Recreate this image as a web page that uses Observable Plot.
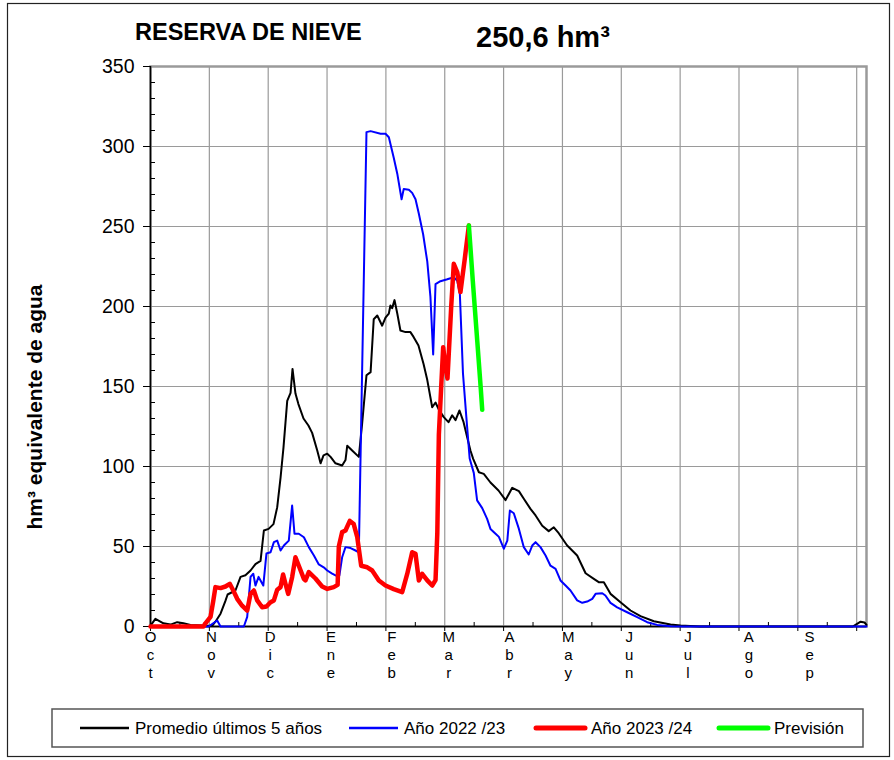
<!DOCTYPE html>
<html><head><meta charset="utf-8">
<script src="https://cdn.jsdelivr.net/npm/d3@7"></script>
<script src="https://cdn.jsdelivr.net/npm/@observablehq/plot@0.6"></script>
<style>
body{margin:0;background:#fff;}
#wrap{position:relative;width:894px;height:760px;font-family:"Liberation Sans",Arial,sans-serif;}
#chart{position:absolute;left:0;top:0;}
#overlay{position:absolute;left:0;top:0;}
</style></head><body>
<div id="wrap"><div id="chart"></div><svg id="overlay" width="894" height="760"></svg></div>
<script>
// ---- Data (day index from 1 October, value in hm³) ----
const promedio = [[0,0.5],[2.5,4.8],[6.6,2],[10.2,1.2],[13.6,2.7],[16.8,2],[20.4,1],[28.9,0.5],[31.5,0.6],[33.1,3],[35.7,8],[38.2,16],[39.3,20],[43.3,22.5],[45.9,31],[48.4,32],[51,35],[53.5,39],[56.1,41],[57.8,60],[60.2,61],[62.7,64],[64.6,74.6],[66.3,93],[67.8,112],[69.7,141],[71.4,146],[72.4,161],[73.9,145.6],[75.4,139],[78,130],[80.5,125.6],[82.4,121],[85,110],[86.7,102],[88.2,107],[90.1,108],[91.8,106],[94.3,102],[97.7,100.6],[99.4,104],[100.3,113],[102.8,110],[106.2,106],[107.9,127],[110.1,157],[112.2,159],[113.8,192],[115.6,194.4],[118.1,188],[119.8,193],[121.5,195.6],[122.3,200.6],[123.2,199],[124.4,204],[125.8,195.6],[127.4,185],[130,184],[132.5,184],[134.1,181],[136.6,175.6],[139.2,164],[141.1,154],[143.6,137],[145.3,140],[146.8,136],[149.4,131],[151.9,127.7],[153.8,132],[155.5,129],[157.5,135],[159.6,127.7],[161.5,118],[163.1,110],[164.5,104.8],[167.4,96.4],[169.9,95.4],[173.3,90],[177.4,85],[181,79],[184.4,86.7],[187.8,84.6],[190.3,79.8],[193.7,73.5],[196.3,69.4],[199.7,63],[203,59.6],[205.6,62],[208.1,58.3],[212.4,50.6],[217.5,44.4],[221.8,33.3],[226,29.8],[228.5,27.7],[231.1,27.7],[234.5,20.4],[239.6,15.2],[244.7,10],[249.8,6.5],[256.6,3.3],[265.1,1.25],[270.2,0.6],[280,0],[358,0],[360,1.5],[362,3],[364,2.5],[365,1]];

const anio2223 = [[0,0],[29.6,0],[34,3.75],[35.7,0],[47.6,0],[49.3,6],[51,31],[52.4,33],[53.5,25.6],[55.1,31],[57.5,25.6],[59.1,45.6],[61.2,46.4],[62.9,52.7],[64.6,53.7],[66.3,47.5],[68,50.6],[70.5,53.7],[72.2,75.6],[73.4,58],[75.6,58],[78.2,55.8],[80.7,49.6],[83.3,44.4],[85.8,38.8],[88.3,37],[90.1,35],[92.6,33],[94.3,31.9],[96.3,31.9],[97.7,43.3],[99.4,49.6],[102,49],[104.5,47.5],[106.2,46.4],[110.1,309],[112.2,309.6],[117.3,308],[119.8,308],[121.5,305.8],[124,293],[125.8,283],[128,267],[129.1,273.5],[131.7,273],[133.4,271],[135.1,267],[136.8,258],[139,245],[141.1,228],[142.7,206],[144.1,170],[145.3,214],[147.8,215.8],[151.3,217],[154.6,218.3],[156.4,216],[157.7,208],[159.3,158],[161,131],[162.7,105],[164.8,96],[166.5,78.8],[169.1,74],[171.6,67.3],[173.3,61],[175.9,58],[177.6,56],[180.1,48.6],[181.9,53.7],[183.2,72.5],[185.2,70.8],[187.8,61],[190.3,49.6],[192.8,45],[194.6,50.6],[196.3,52.7],[198.8,49.6],[201.4,44.4],[203.9,38],[206.5,36],[209,28.8],[211.6,25.6],[214.1,22.5],[217.5,16.3],[220.1,14.8],[222.6,15.6],[225.2,17.3],[226.9,20.4],[230.3,20.8],[231.9,19.4],[234.5,14.8],[237.9,12],[243,8.9],[248.1,5.8],[253.2,2.7],[258.3,1],[265.1,0.2],[272,0],[365,0]];

const anio2324 = [[0,0],[27,0],[28,2],[30.6,6],[32,16],[33.1,24.6],[35.7,24],[38.2,25],[40.4,26.7],[42.2,22.5],[44.2,17.3],[46.7,13],[49.3,10],[51,20.4],[52.7,22.5],[54.4,16.3],[56.9,12],[59.1,12.5],[61.2,15.2],[62.9,16.3],[64.6,23],[66.3,24.6],[67.6,32.5],[68.8,26.7],[70.2,20.4],[72.2,30.8],[73.9,43.3],[75.6,38],[78.2,29.8],[79,28.8],[80.7,34],[84.1,30],[87.5,25],[90.1,23.5],[93.4,24.6],[95.4,26],[96,50],[97.7,59],[99.4,60],[101.6,66],[103.6,64],[105.4,55.8],[107.4,38],[110.5,37],[113,35],[116.4,28.8],[119.8,25.6],[124,23.4],[128.3,21.5],[130.9,33],[133.4,46.4],[135.1,45.4],[136.8,28.8],[138.5,32.9],[141.1,28.8],[143.6,25.6],[145.3,29],[146.2,58],[147,120],[148.2,150],[149.2,174.6],[150.4,162],[151.4,155],[153.3,200],[154.6,226.7],[156.4,221.4],[158,209],[160.1,228.8],[162.3,250.6]];

const prevision = [[162.3,250.6],[164.3,216],[166.6,178],[168.4,148],[169.1,135.4]];

// ---- Axis ticks and labels ----
const gridDays = [30,60,90,120,150,180,210,240,270,300,330,360];
const majorTickDays = [0,30,60,90,120,150,180,210,240,270,300,330,360];
const minorTickDays = [15,45,75,105,135,165,195,225,255,285,315,345];
const monthStarts = [0,31,61,92,123,152,183,213,244,274,305,336];
const monthLabels = ["Oct","Nov","Dic","Ene","Feb","Mar","Abr","May","Jun","Jul","Ago","Sep"];
const yMajor = [0,50,100,150,200,250,300,350];
const yMinor = [10,20,30,40,60,70,80,90,110,120,130,140,160,170,180,190,210,220,230,240,260,270,280,290,310,320,330,340];

const title = "RESERVA DE NIEVE";
const currentValue = "250,6 hm³";
const yTitle = "hm³ equivalente de agua";
const seriesNames = ["Promedio últimos 5 años","Año 2022 /23","Año 2023 /24","Previsión"];
const seriesColors = ["#000000","#0000ff","#ff0000","#00ff00"];
const seriesWidths = [2,2,4.5,4.5];

const toRows = arr => arr.map(([d,v]) => ({d, v}));
const labelOf = new Map(monthStarts.map((d,i) => [d, monthLabels[i]]));
const font = '"Liberation Sans", Arial, sans-serif';

const lineOpts = i => ({x:"d", y:"v", stroke: seriesColors[i], strokeWidth: seriesWidths[i], strokeLinejoin:"round", strokeLinecap:"round"});

const chart = Plot.plot({
  width: 894, height: 700,
  marginLeft: 150, marginRight: 28, marginTop: 66, marginBottom: 74,
  x: {domain: [0, 365]},
  y: {domain: [0, 350]},
  style: {fontFamily: font, background: "transparent", color: "black", overflow: "visible"},
  marks: [
    Plot.gridY(yMajor, {stroke: "#9a9a9a", strokeOpacity: 1, strokeWidth: 1.2}),
    Plot.gridX(gridDays, {stroke: "#9a9a9a", strokeOpacity: 1, strokeWidth: 1.2}),
    Plot.frame({stroke: "#9a9a9a", strokeWidth: 2.5}),
    Plot.axisY({ticks: yMajor, tickSize: 7, tickPadding: 9, fontSize: 19.5, label: null, stroke: "black", fill: "black"}),
    Plot.axisY({ticks: yMinor, tickSize: -5, fill: "none", stroke: "black", label: null}),
    Plot.axisX({ticks: majorTickDays, tickSize: 5, fill: "none", stroke: "black", label: null}),
    Plot.axisX({ticks: minorTickDays, tickSize: -4, fill: "none", stroke: "black", label: null}),
    Plot.axisX({ticks: monthStarts, tickSize: 0, tickPadding: 3, fontSize: 15, lineHeight: 1.2, label: null, fill: "black",
      tickFormat: d => (labelOf.get(d) || "").split("").join("\n")}),
    Plot.ruleX([0], {stroke: "black", strokeWidth: 1.5}),
    Plot.ruleY([0], {stroke: "black", strokeWidth: 1.5}),
    Plot.line(toRows(promedio), lineOpts(0)),
    Plot.line(toRows(anio2223), lineOpts(1)),
    Plot.line(toRows(anio2324), lineOpts(2)),
    Plot.line(toRows(prevision), lineOpts(3))
  ]
});
document.getElementById("chart").append(chart);

// ---- Titles, border, axis title and legend ----
const ov = d3.select("#overlay").style("font-family", font);
ov.append("rect").attr("x", 7.5).attr("y", 3.5).attr("width", 882).attr("height", 753)
  .attr("fill", "none").attr("stroke", "#222").attr("stroke-width", 1.2);
ov.append("text").attr("x", 135).attr("y", 40).attr("font-size", 23.5).attr("font-weight", "bold").text(title);
ov.append("text").attr("x", 476).attr("y", 47).attr("font-size", 29).attr("font-weight", "bold").text(currentValue);
ov.append("text").attr("transform", "translate(42,407) rotate(-90)").attr("text-anchor", "middle")
  .attr("font-size", 21).attr("font-weight", "bold").text(yTitle);

const lg = ov.append("g");
lg.append("rect").attr("x", 52).attr("y", 709).attr("width", 811).attr("height", 38)
  .attr("fill", "white").attr("stroke", "#555").attr("stroke-width", 1.5);
const swatchX = [80, 349, 536, 719];
seriesNames.forEach((name, i) => {
  const x0 = swatchX[i];
  lg.append("line").attr("x1", x0).attr("x2", x0 + 49).attr("y1", 728).attr("y2", 728)
    .attr("stroke", seriesColors[i]).attr("stroke-width", i >= 2 ? 5 : 2.5).attr("stroke-linecap", i >= 2 ? "round" : "butt");
  lg.append("text").attr("x", x0 + 55).attr("y", 734).attr("font-size", 17).text(name);
});
</script></body></html>
